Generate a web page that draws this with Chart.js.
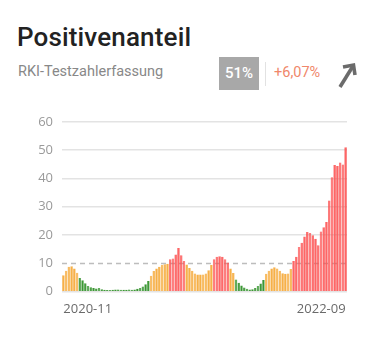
<!DOCTYPE html>
<html lang="de">
<head>
<meta charset="utf-8">
<title>Positivenanteil</title>
<script src="https://cdn.jsdelivr.net/npm/chart.js@4"></script>
<style>
  body { margin: 0; background: #fff; width: 376px; height: 342px; position: relative; overflow: hidden; font-family: Roboto, "Open Sans", sans-serif; }
  .title { position: absolute; left: 17px; top: 22px; font-size: 26px; font-weight: 500; color: #222; margin: 0; letter-spacing: 0.15px; }
  .subtitle { position: absolute; left: 18px; top: 63px; font-size: 14.5px; color: #888; }
  .badge { position: absolute; left: 219px; top: 57px; width: 40px; height: 33px; background: #a8a8a8; color: #fff; font-size: 15px; font-weight: 500; text-align: center; line-height: 33px; }
  .sep { position: absolute; left: 265px; top: 62px; width: 1px; height: 24px; background: #e2e2e2; }
  .change { position: absolute; left: 274px; top: 64px; font-size: 14.5px; color: #f0876a; }
  .arrow { position: absolute; left: 334px; top: 60px; }
  .chart-box { position: absolute; left: 0; top: 105px; width: 376px; height: 215px; }
</style>
</head>
<body>
<h1 class="title">Positivenanteil</h1>
<div class="subtitle">RKI-Testzahlerfassung</div>
<div class="badge">51%</div>
<div class="sep"></div>
<div class="change">+6,07%</div>
<svg class="arrow" width="26" height="30" viewBox="0 0 26 30">
  <g stroke="#6b6b6b" stroke-width="3.6" fill="none" stroke-linecap="butt" stroke-linejoin="miter">
    <line x1="6" y1="27" x2="19" y2="6"/>
    <polyline points="9,7 19.5,5 21,15"/>
  </g>
</svg>
<div class="chart-box"><canvas id="positiveChart"></canvas></div>

<script>
// calendar weeks 2020-11 .. 2022-09 (2020 has 53 weeks)
const weeks = [];
for (let w = 11; w <= 53; w++) weeks.push('2020-' + String(w).padStart(2, '0'));
for (let w = 1; w <= 52; w++) weeks.push('2021-' + String(w).padStart(2, '0'));
for (let w = 1; w <= 9; w++) weeks.push('2022-' + String(w).padStart(2, '0'));

// weekly share of positive tests in %
const positiveShare = [
  5.8, 7.4, 8.8, 9.0, 8.2, 6.7,
  4.8, 4.0, 3.0, 2.0, 1.6, 1.3, 1.1, 1.3, 0.9, 0.7, 0.6, 0.6, 0.7,
  0.8, 0.8, 0.7, 0.7, 0.7, 0.8, 0.7, 0.8, 1.0, 1.3, 1.8, 2.6, 3.8,
  5.6, 7.3, 8.2, 8.8, 9.4, 9.7, 9.9,
  11.5, 11.7, 13.1, 15.4, 12.9, 10.8,
  9.6, 8.4, 7.4, 6.4, 6.1, 6.1, 6.1, 6.4, 7.6, 9.4,
  11.5, 12.3, 12.5, 12.3, 11.5, 10.3,
  8.2, 6.6,
  4.3, 3.2, 2.2, 1.5, 1.0, 0.8, 0.9, 1.3, 2.0, 2.9, 4.1,
  6.3, 7.4, 8.2, 8.6, 8.2, 7.4, 6.5, 6.3, 6.4, 8.0,
  10.8, 12.3, 15.8, 17.3, 19.5, 21.1, 20.7, 19.9, 18.7, 16.4,
  21.3, 22.8, 24.6, 32.2, 40.4, 44.7, 44.4, 45.6, 44.9, 51.0
];

const yTicks = [0, 10, 20, 30, 40, 50, 60];
const warnLevel = 10;

//colour by level: under 5 green, up to 10 orange, above red
function levelColor(v, solid) {
  if (v < 5) return solid ? '#2f8a29' : 'rgba(48,146,40,0.95)';
  if (v <= 10) return solid ? '#f09e28' : 'rgba(247,172,60,0.95)';
  return solid ? '#f23e3e' : 'rgba(255,88,88,0.92)';
}

//dashed line at the 10% mark
const warnLine = {
  id: 'warnLine',
  beforeDatasetsDraw(chart) {
    const { ctx, chartArea } = chart;
    const y = Math.round(chart.scales.y.getPixelForValue(warnLevel)) + 0.5;
    ctx.save();
    ctx.strokeStyle = '#bdbdbd';
    ctx.lineWidth = 1.5;
    ctx.setLineDash([5, 4]);
    ctx.beginPath();
    ctx.moveTo(chartArea.left, y);
    ctx.lineTo(chartArea.right, y);
    ctx.stroke();
    ctx.restore();
  }
};

new Chart(document.getElementById('positiveChart'), {
  type: 'bar',
  data: {
    labels: weeks,
    datasets: [{
      data: positiveShare,
      backgroundColor: positiveShare.map(v => levelColor(v, false)),
      borderColor: positiveShare.map(v => levelColor(v, true)),
      borderWidth: { left: 0.6, right: 0.6, top: 0, bottom: 0 },
      barPercentage: 1,
      categoryPercentage: 0.92
    }]
  },
  options: {
    responsive: true,
    maintainAspectRatio: false,
    animation: false,
    layout: { padding: { top: 15.7, right: 29, left: 0, bottom: 0 } },
    plugins: { legend: { display: false }, tooltip: { enabled: false } },
    scales: {
      y: {
        min: 0,
        max: 60,
        afterBuildTicks: scale => { scale.ticks = yTicks.map(v => ({ value: v })); },
        afterFit: scale => { scale.width = 62; },
        border: { display: false },
        grid: {
          drawTicks: false,
          lineWidth: 1.5,
          color: ctx => (ctx.tick && ctx.tick.value === warnLevel) ? 'rgba(0,0,0,0)' : '#e3e3e3'
        },
        ticks: {
          padding: 9,
          color: '#9a9a9a',
          font: { family: '"Open Sans"', size: 13 }
        }
      },
      x: {
        afterFit: scale => { scale.height = 28.3; },
        border: { display: false },
        grid: { display: false },
        ticks: {
          autoSkip: false,
          maxRotation: 0,
          align: 'inner',
          padding: 2,
          color: '#6a6a6a',
          font: { family: '"Open Sans"', size: 13 },
          callback: (val, i) => (i === 0 || i === weeks.length - 1) ? weeks[i] : ''
        }
      }
    }
  },
  plugins: [warnLine]
});
</script>
</body>
</html>
